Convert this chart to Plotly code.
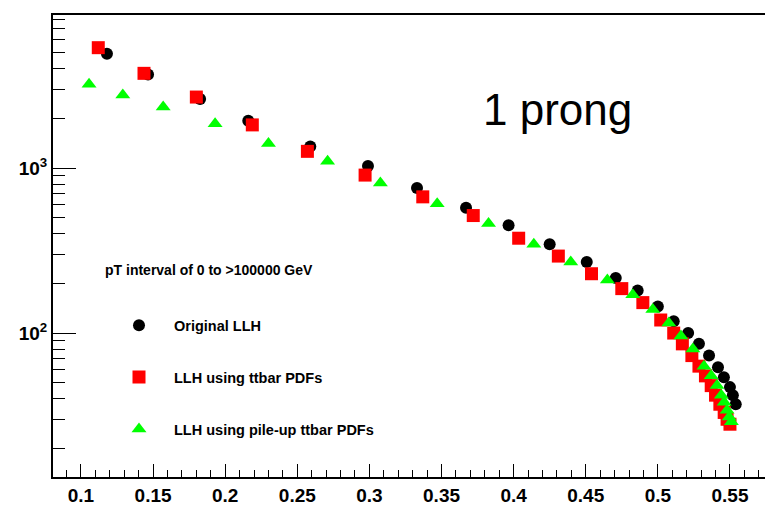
import plotly.graph_objects as go

# Original LLH (black circles)
orig_x = [0.118, 0.1465, 0.1826, 0.216, 0.259, 0.299, 0.333, 0.367, 0.3965, 0.425,
          0.4507, 0.4708, 0.486, 0.500, 0.511, 0.521, 0.5285, 0.5355, 0.5417, 0.5458,
          0.5500, 0.5520, 0.5540]
orig_y = [4950, 3700, 2630, 1940, 1355, 1030, 759, 576, 450, 346,
          270, 216, 181, 145, 118, 100, 86, 73, 62, 54,
          47, 42, 37]

# LLH using ttbar PDFs (red squares)
ttbar_x = [0.112, 0.1437, 0.180, 0.2188, 0.257, 0.297, 0.337, 0.372, 0.4035, 0.431,
           0.454, 0.475, 0.4896, 0.502, 0.511, 0.517, 0.5236, 0.5285, 0.533, 0.537,
           0.540, 0.543, 0.546, 0.548, 0.550]
ttbar_y = [5380, 3760, 2700, 1830, 1265, 908, 670, 516, 376, 293,
           229, 186, 153, 120, 100, 86, 73, 63, 55, 48,
           42, 37, 33, 30, 28]

# LLH using pile-up ttbar PDFs (green triangles)
pu_x = [0.1056, 0.129, 0.157, 0.193, 0.230, 0.271, 0.3076, 0.347, 0.3826, 0.414,
        0.4396, 0.465, 0.4826, 0.4965, 0.5076, 0.516, 0.5243, 0.532, 0.537, 0.541,
        0.544, 0.546, 0.548, 0.5495, 0.551]
pu_y = [3230, 2775, 2350, 1857, 1412, 1100, 813, 608, 462, 346,
        270, 210, 171, 139, 115, 96, 80, 63, 55, 48,
        42, 38, 34, 31, 29]

y_tick_vals = [100, 1000]
y_tick_text = ["10<sup>2</sup>", "10<sup>3</sup>"]
y_minor_vals = [20, 30, 40, 50, 60, 70, 80, 90,
                200, 300, 400, 500, 600, 700, 800, 900,
                2000, 3000, 4000, 5000, 6000, 7000, 8000]

FONT = "Liberation Sans, Arial, Helvetica, sans-serif"

fig = go.Figure()
fig.add_trace(go.Scatter(x=orig_x, y=orig_y, mode="markers", name="Original LLH",
                         legendgroup="a",
                         marker=dict(symbol="circle", size=12, color="black")))
fig.add_trace(go.Scatter(x=ttbar_x, y=ttbar_y, mode="markers", name="LLH using ttbar PDFs",
                         legendgroup="b",
                         marker=dict(symbol="square", size=13, color="#ff0000")))
fig.add_trace(go.Scatter(x=pu_x, y=pu_y, mode="markers", name="LLH using pile-up ttbar PDFs",
                         legendgroup="c",
                         marker=dict(symbol="triangle-up", size=13, color="#00ff00")))

fig.update_layout(
    width=765, height=506,
    margin=dict(l=53, r=0, t=15, b=23),
    paper_bgcolor="white", plot_bgcolor="white",
    font=dict(family=FONT, color="black"),
    showlegend=True,
    legend=dict(x=(104 - 53) / 712, y=1 - (382 - 15) / 468, xanchor="left", yanchor="middle",
                bgcolor="rgba(0,0,0,0)", tracegroupgap=30, itemwidth=60,
                font=dict(size=14.5, weight="bold", family=FONT)),
    xaxis=dict(range=[0.0806, 0.5743], showgrid=False, zeroline=False,
               showline=True, linecolor="black", linewidth=2, mirror=True,
               ticks="inside", ticklen=13, tickwidth=1, tickcolor="black",
               tick0=0.1, dtick=0.05,
               tickfont=dict(size=19, weight="bold", family=FONT),
               minor=dict(ticks="inside", ticklen=7, dtick=0.01, tick0=0.1,
                          tickcolor="black", tickwidth=1, showgrid=False)),
    yaxis=dict(type="log", range=[1.127, 3.929], showgrid=False, zeroline=False,
               showline=True, linecolor="black", linewidth=2,
               ticks="inside", ticklen=23, tickwidth=1, tickcolor="black",
               tickvals=y_tick_vals, ticktext=y_tick_text,
               tickfont=dict(size=19, weight="bold", family=FONT),
               minor=dict(ticks="inside", ticklen=12, tickvals=y_minor_vals,
                          tickcolor="black", tickwidth=1, showgrid=False)),
)

fig.add_annotation(text="1 prong", xref="paper", yref="paper",
                   x=(557 - 53) / 712, y=1 - (111 - 15) / 468,
                   xanchor="center", yanchor="middle", showarrow=False,
                   font=dict(size=44, family=FONT, color="black"))
fig.add_annotation(text="pT interval of 0 to >100000 GeV", xref="paper", yref="paper",
                   x=(103 - 53) / 712, y=1 - (273 - 15) / 468,
                   xanchor="left", yanchor="middle", showarrow=False,
                   font=dict(size=14, weight="bold", family=FONT, color="black"))

fig.write_html("out.html")
